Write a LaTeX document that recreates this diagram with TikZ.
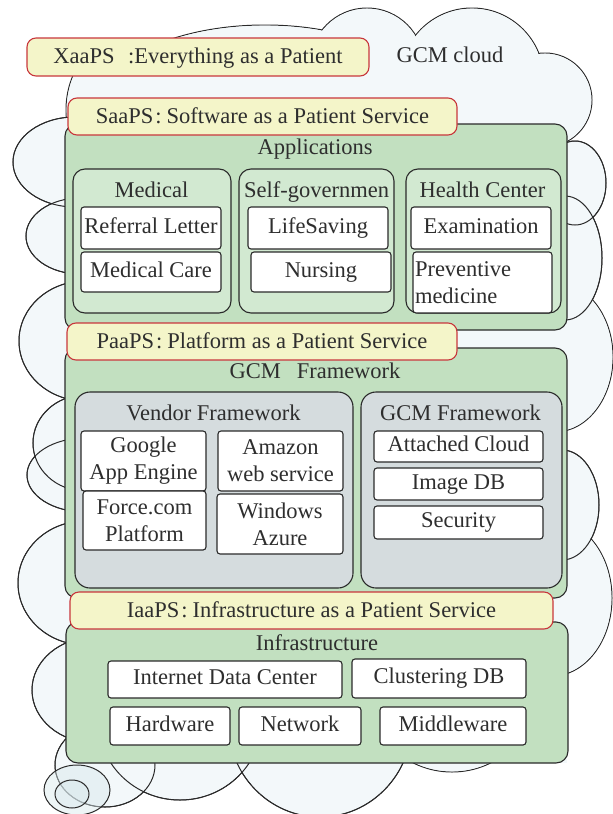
\documentclass[tikz,border=0pt]{standalone}
\usepackage{fontspec}
\setmainfont{Liberation Serif}
\definecolor{cloudc}{HTML}{F3F8FA}
\definecolor{cloudd}{HTML}{D8E8EC}
\definecolor{linec}{HTML}{2A2A2A}
\definecolor{textc}{HTML}{2E2E2E}
\definecolor{yellowc}{HTML}{F4F5C9}
\definecolor{redc}{HTML}{C8373C}
\definecolor{greenc}{HTML}{C2E0C0}
\definecolor{lgreenc}{HTML}{D2E9D1}
\definecolor{greyc}{HTML}{D5DCDE}
\def\lobes{120/110/54/70, 265/110/170/85, 367/65/57/57, 472/80/72/72, 545/100/47/47, 575/183/31/42, 565/258/37/62, 555/357/58/75, 562/505/37/55, 552/598/60/78, 452/685/87/87, 320/722/92/95, 180/720/82/80, 105/765/50/42, 95/690/63/53, 85/583/67/62, 85/475/58/37, 85/443/52/48, 85/341/66/60, 80/236/54/38, 75/162/62/45}
\def\redraw{575/183/31/42, 565/258/37/62, 562/505/37/55, 320/722/92/95, 180/720/82/80, 105/765/50/42, 95/690/63/53, 85/583/67/62, 85/475/58/37, 85/443/52/48, 85/341/66/60, 80/236/54/38, 75/162/62/45}
\begin{document}
\begin{tikzpicture}[x=1pt,y=-1pt,
  font=\fontsize{22.5}{27}\selectfont,
  sz/.style 2 args={minimum width=#1pt, minimum height=#2pt},
  lab/.style={draw=redc, fill=yellowc, line width=1.1pt, rounded corners=9pt, inner sep=0pt, text=textc, text height=16pt, text depth=3pt},
  grn/.style={draw=linec, fill=greenc, line width=1.1pt, rounded corners=12pt, inner sep=0pt},
  lgrn/.style={draw=linec, fill=lgreenc, line width=1.1pt, rounded corners=12pt, inner sep=0pt},
  gry/.style={draw=linec, fill=greyc, line width=1.1pt, rounded corners=15pt, inner sep=0pt},
  wht/.style={draw=linec, fill=white, line width=1.1pt, rounded corners=3pt, inner sep=0pt, text=textc, text height=15pt, text depth=5pt},
  wht2/.style={draw=linec, fill=white, line width=1.1pt, rounded corners=3pt, inner sep=0pt, text=textc, align=center},
  ttl/.style={inner sep=0pt, anchor=base, text=textc},
  lobe/.style={draw=linec, line width=1pt, fill=cloudc},
]
\path[use as bounding box] (0,0) rectangle (613,814);
% ---------- cloud ----------
\begin{scope}
\clip (0,0) rectangle (613,814);
\foreach \cx/\cy/\rx/\ry in \lobes {
  \path[lobe] (\cx,\cy) ellipse [x radius=\rx pt, y radius=\ry pt];
}
\foreach \cx/\cy/\rx/\ry in \lobes {
  \pgfmathsetmacro\rxx{\rx-0.7}
  \pgfmathsetmacro\ryy{\ry-0.7}
  \fill[cloudc] (\cx,\cy) ellipse [x radius=\rxx pt, y radius=\ryy pt];
}
\fill[cloudc] (100,60) rectangle (560,130);
\fill[cloudc] (72,95) rectangle (567,130);
\fill[cloudc] (66,124) rectangle (567,763);
\foreach \cx/\cy/\rx/\ry in \redraw {
  \draw[linec, line width=1pt] (\cx,\cy) ellipse [x radius=\rx pt, y radius=\ry pt];
}
\filldraw[draw=linec, line width=1pt, fill=cloudd, fill opacity=0.45] (77,790) ellipse [x radius=33pt, y radius=25pt];
\filldraw[draw=linec, line width=1pt, fill=cloudd, fill opacity=0.45] (72,794) ellipse [x radius=17pt, y radius=14pt];
\end{scope}
% ---------- XaaPS ----------
\node[lab, sz={342}{38}] (xaaps) at (198,57) {XaaPS\hspace{0.6em}:Everything as a Patient};
\node[ttl] (gcmcloud) at (450,62) {GCM cloud};
% ---------- SaaPS ----------
\node[grn, sz={502}{206}] (apps) at (316,227) {};
\node[lab, sz={389}{37}] (saaps) at (262.5,116.5) {SaaPS\kern2pt:\kern5pt Software as a Patient Service};
\node[ttl] (appsl) at (315,154) {Applications};
\node[lgrn, sz={158}{144}] (med) at (152,241) {};
\node[ttl] (medl) at (151.5,197.3) {Medical};
\node[wht, sz={140}{42}] (ref) at (151,228) {Referral Letter};
\node[wht, sz={140}{40}] (mcare) at (151,272) {Medical Care};
\node[lgrn, sz={155}{144}] (self) at (316.5,241) {};
\node[ttl] (selfl) at (316.7,197.3) {Self-governmen};
\node[wht, sz={140}{42}] (life) at (318,228) {LifeSaving};
\node[wht, sz={140}{40}] (nurse) at (321,272) {Nursing};
\node[lgrn, sz={155}{144}] (health) at (483.5,241) {};
\node[ttl] (healthl) at (482.5,197.3) {Health Center};
\node[wht, sz={140}{42}] (exam) at (481,228) {Examination};
\node[wht2, sz={139}{61}, align=left, text width=135pt, inner xsep=2pt] (prev) at (482.5,282.5) {Preventive\\medicine};
% ---------- PaaPS ----------
\node[grn, sz={502}{250}] (gcmfw) at (316,473) {};
\node[lab, sz={390}{37}] (paaps) at (262,341.5) {PaaPS\kern2pt:\kern5pt Platform as a Patient Service};
\node[ttl] (gcmfwl) at (315,378.3) {GCM\hspace{16pt}Framework};
\node[gry, sz={278}{196}] (vendor) at (214,490) {};
\node[ttl] (vendorl) at (213.5,420.7) {Vendor Framework};
\node[wht2, sz={125}{60}] (google) at (143.5,461) {Google\\App Engine};
\node[wht2, sz={125}{60}] (amazon) at (280.5,461) {Amazon\\web service};
\node[wht2, sz={123}{59}] (force) at (144.5,520.5) {Force.com\\Platform};
\node[wht2, sz={126}{60}] (azure) at (280,524) {Windows\\Azure};
\node[gry, sz={201}{196}] (gcmg) at (461.5,490) {};
\node[ttl] (gcmgl) at (460.5,420.7) {GCM Framework};
\node[wht, sz={169}{31}] (attached) at (458.5,446.5) {Attached Cloud};
\node[wht, sz={169}{32}] (imagedb) at (458.5,484) {Image DB};
\node[wht, sz={169}{33}] (security) at (458.5,522.5) {Security};
% ---------- IaaPS ----------
\node[grn, sz={502}{141}] (infra) at (317,692.5) {};
\node[lab, sz={483}{37}] (iaaps) at (311.5,610.5) {IaaPS\kern2pt:\kern5pt Infrastructure as a Patient Service};
\node[ttl] (infral) at (317,650) {Infrastructure};
\node[wht, sz={234}{37}] (idc) at (225,679.5) {Internet Data Center};
\node[wht, sz={174}{39}] (cdb) at (439,678.5) {Clustering DB};
\node[wht, sz={120}{38}] (hw) at (170,726) {Hardware};
\node[wht, sz={122}{38}] (net) at (300,726) {Network};
\node[wht, sz={146}{38}] (mw) at (453,726) {Middleware};
\end{tikzpicture}
\end{document}
